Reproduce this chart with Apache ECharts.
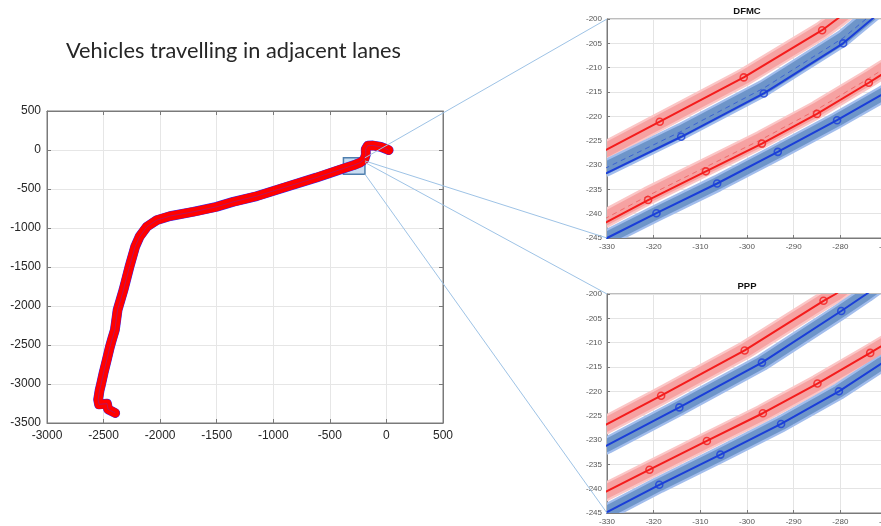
<!DOCTYPE html>
<html><head><meta charset="utf-8">
<script src="https://cdn.jsdelivr.net/npm/echarts@6/dist/echarts.min.js"></script>
<style>html,body{margin:0;padding:0;background:#fff}#c{width:881px;height:526px}</style>
</head><body><div id="c"></div>
<script>
// ---------- text ----------
const titleText = 'Vehicles travelling in adjacent lanes';
const insetTitles = ['DFMC', 'PPP'];

// ---------- tick labels ----------
const mainXTicks = [-3000, -2500, -2000, -1500, -1000, -500, 0, 500];
const mainYTicks = [-3500, -3000, -2500, -2000, -1500, -1000, -500, 0, 500];
const insetXTicks = [-330, -320, -310, -300, -290, -280, -270];
const insetYTicks = [-245, -240, -235, -230, -225, -220, -215, -210, -205, -200];

// ---------- overview trajectory (both vehicles, indistinguishable at this scale) ----------
const pathOverview = [
  [-2397,-3372],[-2460,-3325],[-2470,-3252],[-2540,-3262],[-2548,-3200],[-2535,-3080],
  [-2523,-3008],[-2500,-2858],[-2471,-2688],[-2445,-2530],[-2426,-2432],[-2400,-2306],
  [-2376,-2050],[-2324,-1794],[-2271,-1496],[-2221,-1240],[-2182,-1112],[-2118,-984],
  [-2029,-899],[-1912,-847],[-1706,-792],[-1500,-728],[-1353,-664],[-1147,-592],
  [-912,-485],[-618,-353],[-382,-238],[-290,-195],[-230,-160],[-195,-120],[-182,-60],
  [-183,10],[-165,55],[-120,58],[-50,40],[0,12],[20,-2]
];
const zoomBox = [[-380,-310],[-190,-100]];

// ---------- DFMC inset ----------
const dfmcRedUpper = [[-334,-228.8],[-330,-226.8],[-318.7,-221.1],[-300.7,-212.0],[-283.9,-202.3],[-280.7,-200.0],[-277,-197.3]];
const dfmcRedUpperMarks = [[-318.7,-221.1],[-300.7,-212.0],[-283.9,-202.3]];
const dfmcBlueUpper = [[-334,-233.4],[-330,-231.6],[-314.1,-224.2],[-296.4,-215.3],[-279.4,-205.0],[-273.2,-200.0],[-270,-197.3]];
const dfmcBlueUpperMarks = [[-314.1,-224.2],[-296.4,-215.3],[-279.4,-205.0]];
const dfmcBlueUpperDash = [[-334,-232.3],[-330,-230.5],[-314.1,-223.1],[-296.4,-214.2],[-279.4,-203.9],[-274.5,-200.0],[-271,-197.2]];
const dfmcRedLower = [[-334,-243.7],[-330,-241.7],[-321.2,-237.2],[-308.8,-231.3],[-296.8,-225.6],[-285.0,-219.5],[-273.9,-213.1],[-268,-209.5]];
const dfmcRedLowerMarks = [[-321.2,-237.2],[-308.8,-231.3],[-296.8,-225.6],[-285.0,-219.5],[-273.9,-213.1]];
const dfmcRedLowerDash = [[-334,-242.8],[-330,-240.8],[-321.2,-236.3],[-308.8,-230.4],[-296.8,-224.7],[-285.0,-218.6],[-273.9,-212.2],[-268,-208.6]];
const dfmcBlueLower = [[-334,-247.0],[-330,-245.0],[-319.4,-239.9],[-306.4,-233.8],[-293.4,-227.3],[-280.7,-220.8],[-271.2,-215.6],[-268,-213.8]];
const dfmcBlueLowerMarks = [[-319.4,-239.9],[-306.4,-233.8],[-293.4,-227.3],[-280.7,-220.8]];

// ---------- PPP inset ----------
const pppRedUpper = [[-334,-228.8],[-330,-226.75],[-318.4,-220.9],[-300.5,-211.6],[-283.6,-201.4],[-281,-200.0],[-277,-197.2]];
const pppRedUpperMarks = [[-318.4,-220.9],[-300.5,-211.6],[-283.6,-201.4]];
const pppBlueUpper = [[-334,-233.0],[-330,-231.1],[-314.5,-223.3],[-296.8,-214.1],[-279.8,-203.5],[-274.4,-200.0],[-270,-197.0]];
const pppBlueUpperMarks = [[-314.5,-223.3],[-296.8,-214.1],[-279.8,-203.5]];
const pppRedLower = [[-334,-242.5],[-330,-240.5],[-320.9,-236.1],[-308.6,-230.2],[-296.6,-224.5],[-284.9,-218.4],[-273.6,-212.1],[-268,-208.9]];
const pppRedLowerMarks = [[-320.9,-236.1],[-308.6,-230.2],[-296.6,-224.5],[-284.9,-218.4],[-273.6,-212.1]];
const pppBlueLower = [[-334,-246.7],[-330,-244.8],[-318.8,-239.2],[-305.7,-233.0],[-292.7,-226.7],[-280.3,-220.0],[-271.2,-214.3],[-268,-212.5]];
const pppBlueLowerMarks = [[-318.8,-239.2],[-305.7,-233.0],[-292.7,-226.7],[-280.3,-220.0]];

// ---------- layout & styles ----------
const L = {
  main: {left: 47, top: 111, width: 396, height: 312},
  dfmc: {left: 607, top: 19, width: 280, height: 219},
  ppp:  {left: 607, top: 294, width: 280, height: 219}
};
const FONT = 'Liberation Sans, Arial, Helvetica, sans-serif';
const STY = {
  red:  {line: '#f41c1c', outer: '#fbc6c6', inner: '#f6a2a2', dash: '#ef6a6a', outerW: 18.5, innerW: 14},
  blue: {line: '#1a3ed8', outer: '#a2bdec', inner: '#6e95c9', dash: '#3b62d2', outerW: 17, innerW: 12.5}
};

function rng(t){ return {min: t[0], max: t[t.length-1], interval: t[1]-t[0]}; }
const plain = v => String(v);

const chart = echarts.init(document.getElementById('c'), null, {renderer: 'canvas'});

function mkX(grid, ticks, small, extra){
  return Object.assign({
    type: 'value', gridIndex: grid, position: 'bottom', ...rng(ticks),
    axisLine: {show: true, onZero: false, lineStyle: {color: '#7a7a7a', width: 1}},
    axisTick: {show: true, inside: true, length: small ? 3 : 4, lineStyle: {color: '#7a7a7a'}},
    axisLabel: {show: true, formatter: plain, color: small ? '#555' : '#262626', fontSize: small ? 8 : 12, fontFamily: FONT,
                margin: small ? 5 : 7, showMinLabel: true, showMaxLabel: true, hideOverlap: false},
    splitLine: {show: true, lineStyle: {color: small ? '#e4e4e4' : '#e6e6e6', width: 1}}
  }, extra || {});
}
function mkY(grid, ticks, small, extra){
  return Object.assign({
    type: 'value', gridIndex: grid, position: 'left', ...rng(ticks),
    axisLine: {show: true, onZero: false, lineStyle: {color: '#7a7a7a', width: 1}},
    axisTick: {show: true, inside: true, length: small ? 3 : 4, lineStyle: {color: '#7a7a7a'}},
    axisLabel: {show: true, formatter: plain, color: small ? '#555' : '#262626', fontSize: small ? 8 : 12, fontFamily: FONT,
                margin: small ? 5 : 6, showMinLabel: true, showMaxLabel: true, hideOverlap: false},
    splitLine: {show: true, lineStyle: {color: small ? '#e4e4e4' : '#e6e6e6', width: 1}}
  }, extra || {});
}
const hiddenExtra = pos => ({position: pos, axisLabel: {show: false}, splitLine: {show: false}});

// confidence band: a wide stroke along the track, drawn by a custom series and clipped to the grid
function bandSeries(ax, data, s, z){
  return [[s.outer, s.outerW, 0], [s.inner, s.innerW, 0.1]].map(([col, w, dz]) => ({
    type: 'custom', xAxisIndex: ax, yAxisIndex: ax, data: data, clip: true, silent: true, z: z + dz,
    renderItem: (params, api) => {
      if (params.dataIndex !== 0) return null;
      return {type: 'polyline', shape: {points: data.map(pt => api.coord(pt))},
              style: {stroke: col, lineWidth: w, fill: null, lineCap: 'butt', lineJoin: 'round'}};
    }
  }));
}
function trackSeries(ax, track){
  const s = STY[track.color];
  const out = bandSeries(ax, track.dash || track.line, s, 1);
  if (track.dash) out.push({type: 'line', xAxisIndex: ax, yAxisIndex: ax, data: track.dash, symbol: 'none', silent: true, z: 3,
    lineStyle: {color: s.dash, width: 1, type: [5, 4]}});
  out.push({type: 'line', xAxisIndex: ax, yAxisIndex: ax, data: track.line, symbol: 'none', silent: true, z: 4,
    lineStyle: {color: s.line, width: 2}});
  out.push({type: 'scatter', xAxisIndex: ax, yAxisIndex: ax, data: track.marks, symbol: 'circle', symbolSize: 7, silent: true, z: 5,
    itemStyle: {color: 'rgba(0,0,0,0)', borderColor: s.line, borderWidth: 1.6}});
  return out;
}

const dfmcTracks = [
  {line: dfmcRedUpper, marks: dfmcRedUpperMarks, color: 'red'},
  {line: dfmcBlueUpper, marks: dfmcBlueUpperMarks, dash: dfmcBlueUpperDash, color: 'blue'},
  {line: dfmcRedLower, marks: dfmcRedLowerMarks, dash: dfmcRedLowerDash, color: 'red'},
  {line: dfmcBlueLower, marks: dfmcBlueLowerMarks, color: 'blue'}
];
const pppTracks = [
  {line: pppRedUpper, marks: pppRedUpperMarks, color: 'red'},
  {line: pppBlueUpper, marks: pppBlueUpperMarks, color: 'blue'},
  {line: pppRedLower, marks: pppRedLowerMarks, color: 'red'},
  {line: pppBlueLower, marks: pppBlueLowerMarks, color: 'blue'}
];

const series = [
  {type: 'line', xAxisIndex: 0, yAxisIndex: 0, data: pathOverview, symbol: 'none', silent: true, z: 2,
   lineStyle: {color: '#2a2aff', width: 9.8, cap: 'round', join: 'round'}},
  {type: 'line', xAxisIndex: 0, yAxisIndex: 0, data: pathOverview, symbol: 'none', silent: true, z: 3,
   lineStyle: {color: '#ff0000', width: 9, cap: 'round', join: 'round'}},
  {type: 'line', xAxisIndex: 0, yAxisIndex: 0, data: pathOverview, symbol: 'none', silent: true, z: 4,
   lineStyle: {color: 'rgba(110,40,190,0.45)', width: 1}},
  {type: 'line', xAxisIndex: 0, yAxisIndex: 0, data: zoomBox, symbol: 'none', silent: true, z: 6,
   lineStyle: {opacity: 0},
   markArea: {silent: true, label: {show: false},
     itemStyle: {color: 'rgba(165,198,232,0.6)', borderColor: '#4f7fae', borderWidth: 1.5},
     data: [[{coord: zoomBox[0]}, {coord: zoomBox[1]}]]}}
];
dfmcTracks.forEach(t => series.push(...trackSeries(2, t)));
pppTracks.forEach(t => series.push(...trackSeries(3, t)));

const gridBase = {show: true, borderColor: '#7a7a7a', borderWidth: 1, backgroundColor: 'transparent', containLabel: false, outerBoundsMode: 'none'};

chart.setOption({
  animation: false,
  backgroundColor: '#ffffff',
  grid: [
    Object.assign({}, gridBase, L.main),
    Object.assign({}, gridBase, L.dfmc),
    Object.assign({}, gridBase, L.ppp)
  ],
  xAxis: [
    mkX(0, mainXTicks, false),
    mkX(0, mainXTicks, false, hiddenExtra('top')),
    mkX(1, insetXTicks, true),
    mkX(2, insetXTicks, true)
  ],
  yAxis: [
    mkY(0, mainYTicks, false),
    mkY(0, mainYTicks, false, hiddenExtra('right')),
    mkY(1, insetYTicks, true),
    mkY(2, insetYTicks, true)
  ],
  series: series
});

// ---------- title & inset titles & connector lines ----------
const ctx = document.createElement('canvas').getContext('2d');
ctx.font = '22px Lato';
const tw = ctx.measureText(titleText).width;
const titleScale = 335 / tw;

const p = (g, pt) => chart.convertToPixel({gridIndex: g}, pt);
const x0 = zoomBox[0][0], y0 = zoomBox[0][1], x1 = zoomBox[1][0], y1 = zoomBox[1][1];
const ixMin = insetXTicks[0], iyMin = insetYTicks[0], iyMax = insetYTicks[insetYTicks.length-1];
const connectors = [
  [p(0, [x1, y1]), p(1, [ixMin, iyMax])],
  [p(0, [x1, y1 - 40]), p(1, [ixMin, iyMin])],
  [p(0, [x1, y1 - 60]), p(2, [ixMin, iyMax])],
  [p(0, [x1, y0]), p(2, [ixMin, iyMin])]
];
const graphics = connectors.map(c => ({
  type: 'line', silent: true, z: 100,
  shape: {x1: c[0][0], y1: c[0][1], x2: c[1][0], y2: c[1][1]},
  style: {stroke: '#9ec3e6', lineWidth: 1}
}));
graphics.push({type: 'text', x: 66, y: 51, scaleX: titleScale, silent: true, z: 100,
  style: {text: titleText, font: '22px Lato', fill: '#262626', verticalAlign: 'middle', align: 'left'}});
[L.dfmc, L.ppp].forEach((g, i) => graphics.push({
  type: 'text', x: g.left + g.width / 2, y: g.top - 8, silent: true, z: 100,
  style: {text: insetTitles[i], font: 'bold 9.5px ' + FONT, fill: '#111', align: 'center', verticalAlign: 'middle'}
}));
chart.setOption({graphic: graphics});
</script>
</body></html>
